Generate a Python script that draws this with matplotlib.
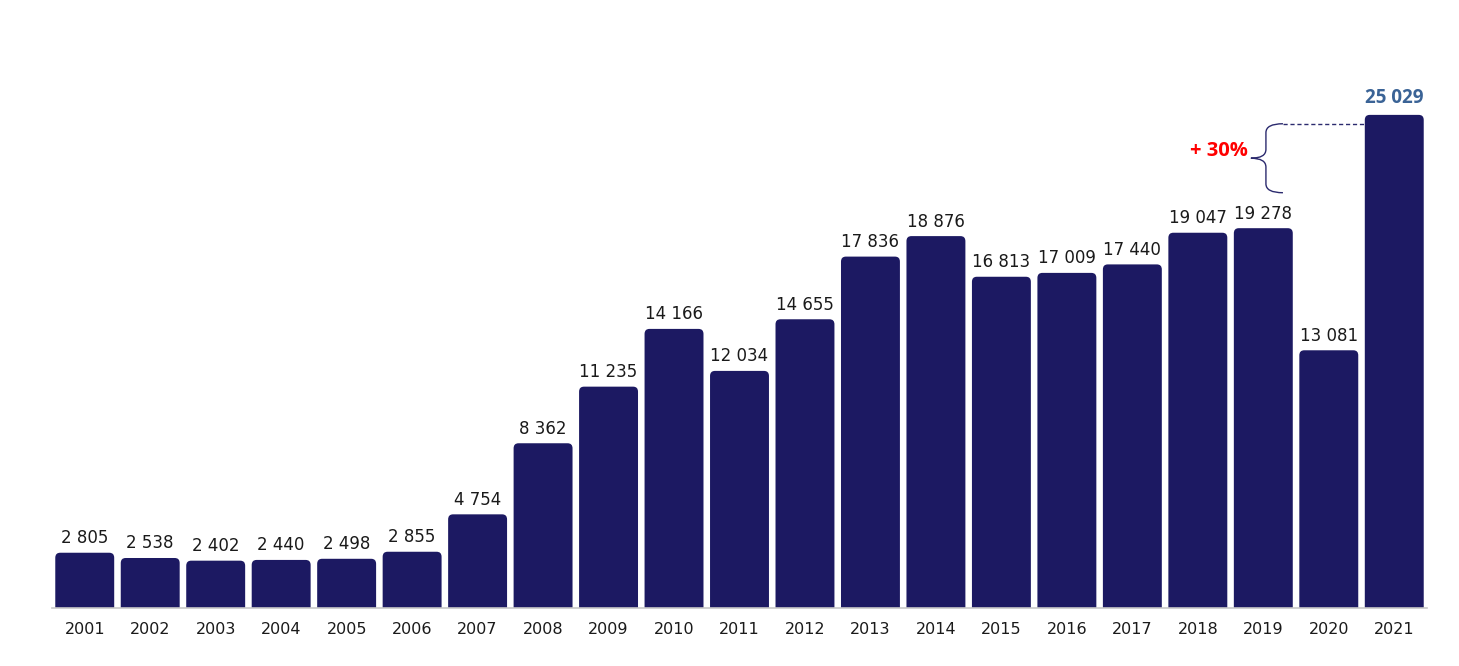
#! /usr/bin/env python3
"""
Bar chart of yearly values 2001-2021 with a +30% brace on the last bar
"""

from matplotlib.patches import FancyBboxPatch, PathPatch
from matplotlib.path import Path
import matplotlib.pyplot as plt

YEARS = [
    "2001", "2002", "2003", "2004", "2005", "2006", "2007",
    "2008", "2009", "2010", "2011", "2012", "2013", "2014",
    "2015", "2016", "2017", "2018", "2019", "2020", "2021"
]
VALUES = [
    2805, 2538, 2402, 2440, 2498, 2855, 4754,
    8362, 11235, 14166, 12034, 14655, 17836, 18876,
    16813, 17009, 17440, 19047, 19278, 13081, 25029
]
GROWTH_LABEL = "+ 30%"


def main():
    fig = plt.figure(figsize=(14.59, 6.66), dpi=100)
    ax = fig.add_axes([52 / 1459, 58 / 666, 1375 / 1459, 608 / 666])
    bar_chart(fig=fig, ax=ax)
    growth_brace(ax=ax)
    fig.savefig(fname="out.png", dpi=100)


def fmt(value: int) -> str:
    return f"{value:,}".replace(",", " ")


def bar_chart(*, fig, ax, colour: str = "#1c1962") -> None:
    """
    Draws bars with rounded top corners and value labels.
    """
    positions = list(range(len(YEARS)))
    ax.set_xlim(-0.5, len(YEARS) - 0.5)
    ax.set_ylim(0, 30860)
    bars = ax.bar(positions, VALUES, width=0.9, color=colour)
    # rounding radius in data units (about 5 px each way)
    rx = 0.075
    ry = 255
    for bar in bars:
        patch = FancyBboxPatch(
            (bar.get_x(), -ry),
            bar.get_width(),
            bar.get_height() + ry,
            boxstyle=f"round,pad=0,rounding_size={rx}",
            mutation_aspect=ry / rx,
            facecolor=colour,
            edgecolor="none",
        )
        ax.add_patch(patch)
        bar.remove()
    for pos, value in zip(positions[:-1], VALUES[:-1]):
        ax.annotate(
            fmt(value), xy=(pos, value), xytext=(0, 4),
            textcoords="offset points", ha="center", va="bottom",
            fontsize=12, color="#1a1a1a", family="DejaVu Sans"
        )
    ax.annotate(
        fmt(VALUES[-1]), xy=(positions[-1], VALUES[-1]), xytext=(0, 5),
        textcoords="offset points", ha="center", va="bottom",
        fontsize=13.5, fontweight="bold", color="#3a6396",
        family="Open Sans"
    )
    ax.set_xticks(positions)
    ax.set_xticklabels(YEARS, fontsize=11.5, color="#1a1a1a",
                       family="DejaVu Sans")
    ax.tick_params(axis="x", length=0, pad=10)
    ax.set_yticks([])
    for side in ["left", "right", "top"]:
        ax.spines[side].set_visible(False)
    ax.spines["bottom"].set_color("#c8c8c8")
    ax.spines["bottom"].set_linewidth(1.2)


def growth_brace(*, ax, colour: str = "#2b2a6e") -> None:
    """
    Draws the curly brace, dashed guide line and growth label.
    """
    last = len(VALUES) - 1
    top = VALUES[-1] - 450
    bottom = VALUES[-3] + 1800
    mid = (top + bottom) / 2
    x_right = last - 2 + 0.30
    x_vert = last - 2 + 0.04
    x_tip = last - 2 - 0.19
    r = 450
    verts = [
        (x_right, top), (x_vert, top), (x_vert, top - r),
        (x_vert, mid + r), (x_vert, mid), (x_tip, mid),
        (x_vert, mid), (x_vert, mid - r),
        (x_vert, bottom + r), (x_vert, bottom), (x_right, bottom),
    ]
    codes = [
        Path.MOVETO, Path.CURVE3, Path.CURVE3,
        Path.LINETO, Path.CURVE3, Path.CURVE3,
        Path.CURVE3, Path.CURVE3,
        Path.LINETO, Path.CURVE3, Path.CURVE3,
    ]
    ax.add_patch(PathPatch(Path(verts, codes), facecolor="none",
                           edgecolor=colour, linewidth=1.0))
    ax.plot([x_right, last - 0.45], [top, top], color=colour,
            linewidth=1.0, linestyle=(0, (3, 2)))
    ax.text(x_tip - 0.04, mid + 350, GROWTH_LABEL, ha="right",
            va="center", fontsize=14.5, fontweight="bold", color="#ff0000",
            family="Open Sans")


if __name__ == "__main__":
    main()
